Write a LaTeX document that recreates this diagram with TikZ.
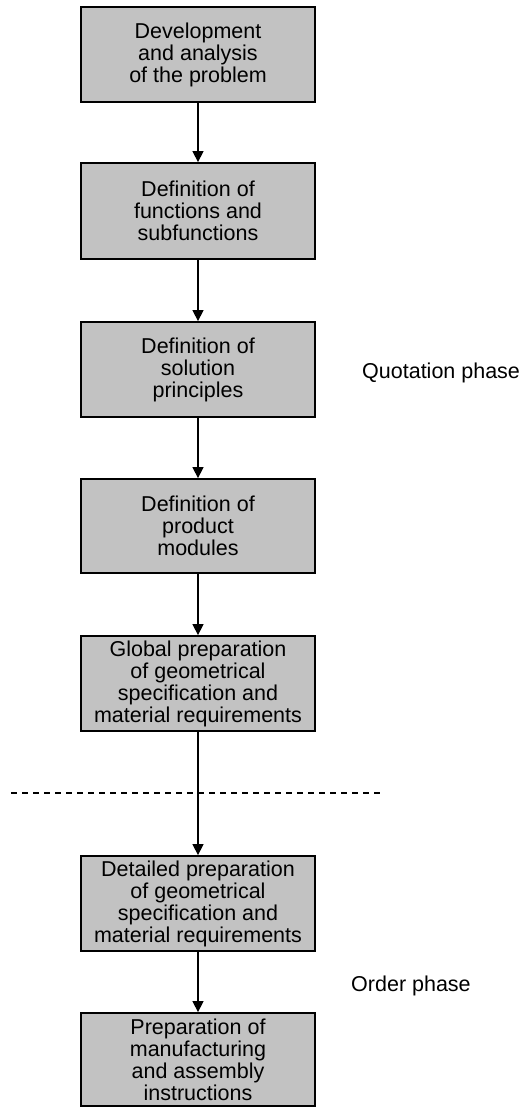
\documentclass[tikz,border=0pt]{standalone}
\usepackage{fontspec}
\setmainfont{Liberation Sans}
\usetikzlibrary{arrows.meta}
\begin{document}
\begin{tikzpicture}[x=1pt,y=-1pt,
  stepbox/.style={draw=black, line width=1.8pt, fill=black!24,
    minimum width=234pt, inner sep=0pt, align=center,
    font=\fontsize{21.5pt}{22pt}\selectfont},
  flow/.style={line width=1.4pt, -{Triangle[length=11pt,width=11pt]}},
  phase/.style={anchor=west, inner sep=0pt, font=\fontsize{21.5pt}{22pt}\selectfont}]
\useasboundingbox (0,0) rectangle (521,1107);

\node[stepbox, minimum height=95pt] (b1) at (198,54.5)
  {Development\\and analysis\\of the problem};
\node[stepbox, minimum height=96pt] (b2) at (198,211)
  {Definition of\\functions and\\subfunctions};
\node[stepbox, minimum height=95pt] (b3) at (198,369.5)
  {Definition of\\solution\\principles};
\node[stepbox, minimum height=94pt] (b4) at (198,526)
  {Definition of\\product\\modules};
\node[stepbox, minimum height=95pt] (b5) at (198,683.5)
  {Global preparation\\of geometrical\\specification and\\material requirements};
\node[stepbox, minimum height=95pt] (b6) at (198,903.5)
  {Detailed preparation\\of geometrical\\specification and\\material requirements};
\node[stepbox, minimum height=93pt] (b7) at (198,1059.5)
  {Preparation of\\manufacturing\\and assembly\\instructions};

\draw[flow] (b1) -- (b2);
\draw[flow] (b2) -- (b3);
\draw[flow] (b3) -- (b4);
\draw[flow] (b4) -- (b5);
\draw[flow] (b5) -- (b6);
\draw[flow] (b6) -- (b7);

% boundary between the two phases
\coordinate (sepL) at (11,793);
\coordinate (sepR) at (382,793);
\draw[line width=1.8pt, dash pattern=on 6pt off 5pt] (sepL) -- (sepR);

\node[phase] (quot) at (362,373) {Quotation phase};
\node[phase] (order) at (351,986) {Order phase};
\end{tikzpicture}
\end{document}
